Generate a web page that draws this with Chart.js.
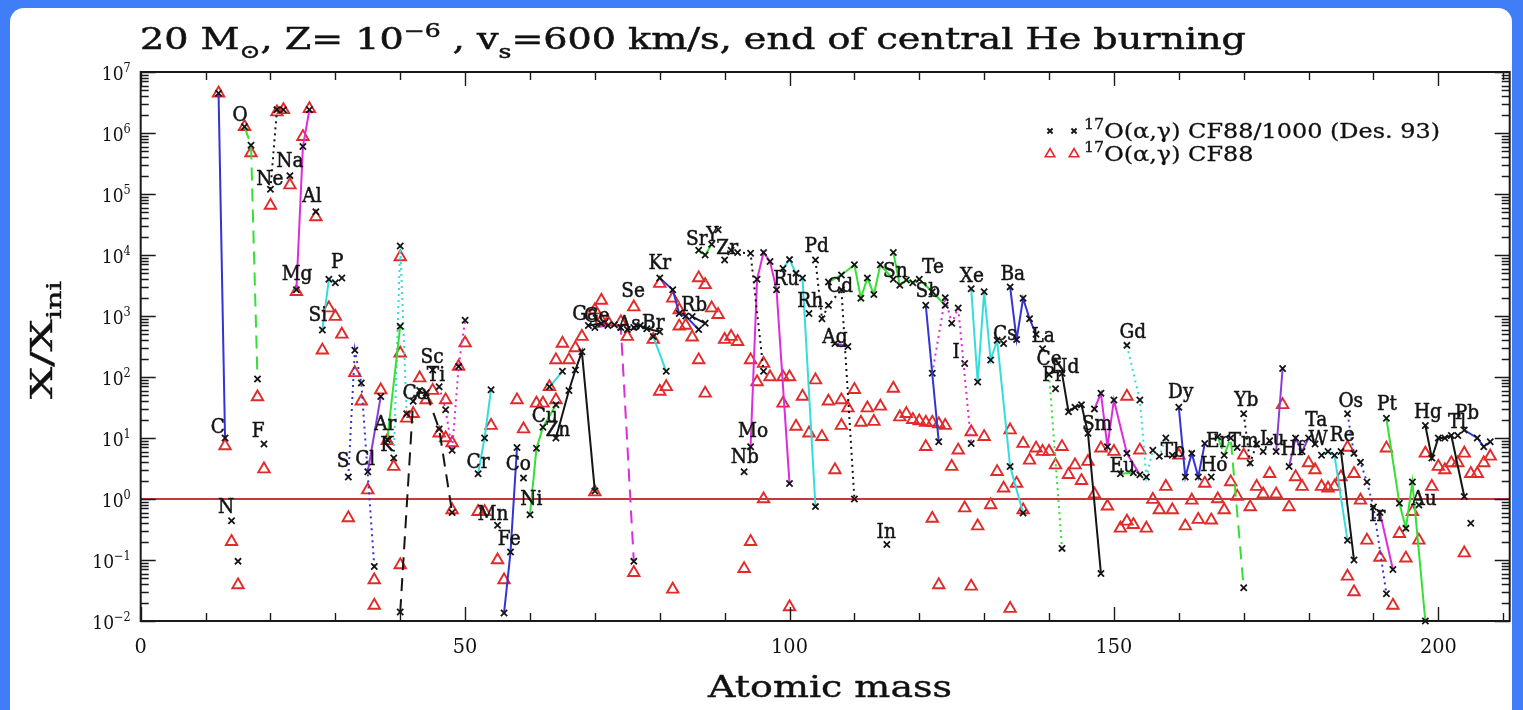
<!DOCTYPE html>
<html>
<head>
<meta charset="utf-8">
<title>Isotopic overabundances, 20 Msun, Z=1e-6</title>
<script src="https://cdn.jsdelivr.net/npm/chart.js@4.4.1/dist/chart.umd.min.js"></script>
<style>
  html, body { margin: 0; padding: 0; width: 1523px; height: 710px; overflow: hidden; background: #3f7ef7; }
  #panel { position: absolute; left: 10px; top: 8px; width: 1502px; height: 710px; background: #fff; border-radius: 14px 14px 0 0; }
  #c { position: absolute; left: 0; top: 0; }
</style>
</head>
<body>
<div id="panel"></div>
<canvas id="c" width="1523" height="710"></canvas>
<script>
// ---- Data: overabundance X/Xini of stable isotopes at the end of central He burning ----

// Elements, each plotted as a chain of its isotopes (crosses, Des. 93 rate)
const elements = ['C','N','O','F','Ne','Na','Mg','Al','Si','P','S','Cl','Ar','K','Ca','Sc','Ti','Cr','Mn','Fe',
  'Co','Ni','Cu','Zn','Ga','Ge','As','Se','Br','Kr','Rb','Sr','Y','Zr','Nb','Mo','Ru','Rh','Pd','Ag',
  'Cd','In','Sn','Sb','Te','I','Xe','Cs','Ba','La','Ce','Pr','Nd','Sm','Eu','Gd','Tb','Dy','Ho','Er',
  'Tm','Yb','Lu','Hf','Ta','W','Re','Os','Ir','Pt','Au','Hg','Tl','Pb'];

const crossMass = [
  [12,13],[14,15],[16,17,18],[19],[20,21,22],[23],[24,25,26],[27],[28,29,30],[31],
  [32,33,34,36],[35,37],[38,40],[39,40,41],[40,42,43,44,46,48],[45],[46,47,48,49,50],[52,53,54],[55],[56,57,58],
  [59],[60,61,62,64],[63,65],[64,66,67,68,70],[69,71],[70,72,73,74,76],[75],[76,77,78,80],[79,81],[80,82,83,84,86],
  [85,87],[86,87,88],[89],[90,91,92,94,96],[93],[94,95,96,97,98,100],[99,100,101,102,104],[103],[104,105,106,108,110],[107,109],
  [106,108,110,111,112,113,114,116],[115],[116,117,118,119,120,122,124],[121,123],[122,124,125,126,128],[127],
  [128,129,130,131,132,134,136],[133],[134,135,136,137,138],[139],
  [140,142],[141],[142,143,144,145,146,148],[147,148,149,150,152,154],[151,153],[152,154,155,156,157,158],[159],[160,161,162,163,164],[165],[166,167,168,170],
  [169],[170,171,172,173,174],[175,176],[177,178,179,180],[181],[182,183,184,186],[185,187],[186,187,188,189,190,192],[191,193],[192,194,195,196,198],
  [197],[198,199,200,201,202,204],[203,205],[204,206,207,208]
];

const crossAbund = [
  [4.5e6,10],[0.44,0.095],[1.27e6,6.3e5,93],[8],[1.2e5,2.4e6,2.4e6],[2.0e5],[2700,6.0e5,2.4e6],[5.1e4],[590,4000,3500],[4200],
  [2.3,275,80,0.078],[2.8,48],[9.4,680],[4.7,1.4e4,25],[0.014,40,60,55,14,0.6],[130],[69,29,6.3,148,850],[2.6,10,62],[0.37],[0.0135,0.135,7],
  [2.2],[0.55,6.8,15,35],[69,124],[10,60,130,260,1.35],[700,750],[650,700,720,650,0.095],[600],[650,700,620,550],[460,124],[4200,2700,1100,1000,600],
  [980,760],[1.2e4,1.0e4,1.5e4],[2.6e4],[8300,1.2e4,1.1e4,1.07e4,124],[2.8],[7.2,4000,1.1e4,7800,2700,1.8],[6000,8400,5000,4200,0.75],[1100],[8300,900,1500,2700,1.0],[355,316],
  [3600,4700,6900,1950,4200,2250,6900,4000],[0.18],[1.1e4,3200,3900,3500,4000,2500,1500],[1500,8.7],[115,2000,760,1350,8.1],[166],
  [2800,83,2500,190,400,3.4,0.59],[355],[3000,410,1950,900,500],[290],
  [110,0.155],[64],[115,27,32,35,12,0.06],[30,54,7.2,42,5.6,2.5],[2.6,2.7],[330,42,2.3,6.3,5,10],[5.2],[32,2.3,5.6,2.3,8.1],[2.3],[10.5,5.2,10,0.035],
  [7],[25,3.9,8,6,9],[6,138],[3.4,10,6,10],[8],[5.2,6,5.2,0.21],[6,0.1],[25,5.6,4,1.9,0.74,0.028],[0.6,0.07],[21,0.85,0.33,1.9,0.01],
  [0.8],[16,4.7,10,10,11,1.1],[11,0.4],[13.5,10,7.2,8.7]
];

// Where each element symbol is written: atomic mass and log10(X/Xini)
const labelMass = [11.9,13.15,15.3,18.1,19.9,23.0,24.1,26.4,27.3,30.3,
  31.2,34.6,37.7,38.0,42.3,44.9,45.5,52.0,54.3,56.8,
  58.2,60.2,62.3,64.3,68.5,70.3,75.3,75.9,79.0,80.0,
  85.3,85.7,88.1,90.4,93.1,94.4,99.5,103.2,104.2,107.0,
  107.8,114.9,116.3,121.3,122.1,125.7,128.1,133.2,134.4,139.1,
  140.0,140.6,142.5,147.4,151.3,152.9,159.1,160.3,165.4,165.9,
  170.0,170.4,174.4,177.5,181.2,181.5,185.2,186.5,190.6,192.1,
  197.8,198.4,202.9,204.4];
const labelLog = [1.16,-0.15,6.28,1.10,5.23,5.52,3.67,4.95,3.00,3.87,
  0.61,0.64,1.21,0.87,1.72,2.31,2.02,0.59,-0.26,-0.67,
  0.56,-0.02,1.34,1.11,3.02,2.98,2.85,3.39,2.87,3.85,
  3.16,4.25,4.31,4.10,0.67,1.10,3.59,3.23,4.13,2.64,
  3.48,-0.56,3.72,3.39,3.79,2.39,3.64,2.69,3.67,2.66,
  2.28,2.02,2.15,1.21,0.52,2.72,0.77,1.74,0.54,0.93,
  0.93,1.61,0.97,0.80,1.28,0.97,1.03,1.59,-0.28,1.54,
  -0.02,1.41,1.25,1.39];

// Triangles: the same isotopes with the CF88 rate
const triangleMass = [12,13,14,15,16,17,18,19,20,21,22,23,24,25,26,27,28,29,30,31,32,33,34,35,36,36,37,38,39,40,40,40,
  41,42,43,44,45,46,47,47,48,48,49,50,52,53,54,55,56,58,59,61,62,63,64,64,65,66,67,68,70,70,71,71,72,74,75,76,76,
  79,80,80,81,82,82,83,83,84,85,86,86,87,87,88,89,90,91,92,93,94,94,95,96,96,97,99,99,100,100,101,102,103,104,105,106,
  107,108,108,109,110,111,112,113,114,116,117,118,119,120,121,121,122,122,123,123,124,125,126,127,128,128,129,130,131,
  132,133,134,134,135,136,136,137,138,139,140,141,142,143,144,145,146,147,148,149,150,151,152,152,153,154,155,156,157,
  158,159,160,161,162,163,164,165,166,167,168,169,170,171,172,173,174,175,176,177,178,179,180,181,182,183,184,185,186,
  186,187,187,188,189,191,192,193,194,195,196,197,198,199,200,201,202,203,204,204,205,206,207,208];
const triangleAbund = [4.5e6,7.4,0.2,0.039,1.27e6,4.7e5,47,3.1,6.5e4,2.2e6,2.4e6,1.4e5,2500,8.7e5,2.5e6,4.2e4,275,1350,980,500,0.49,117,40,1.4,0.047,0.018,61,9,3.4,9300,245,0.083,
  21,25,96,42,60,12,42,10,8.3,0.66,148,360,0.62,0.62,16,0.1,0.047,42,14,37,37,69,190,42,355,190,300,460,1250,1.3,1800,850,800,800,460,1400,0.062,
  410,58,3400,69,1950,0.033,1260,680,700,450,4200,190,3240,54,1350,1050,410,460,380,0.072,190,0.2,83,166,1.0,100,100,37,100,0.017,15.5,48,12,89,10.5,40,
  3.0,42,16,31,62,18,31,18.6,33,65,22,25,20,19,18,7.2,18,0.48,17,0.039,16,3.4,6.3,0.71,12.6,0.037,0.36,10.5,0.8,
  2.8,1.5,13.5,0.016,1.8,8.1,0.66,4.3,6.8,6,6,3.6,7.2,2.5,3.6,2.0,4.1,1.2,6.8,0.76,6,0.33,0.43,48,0.38,6.3,0.33,0.98,0.66,
  1.6,0.66,5.2,0.36,0.95,0.46,1.8,0.45,1.0,0.66,1.9,1.1,5.2,0.74,1.6,1.2,2.6,1.2,35,0.74,2.3,1.6,3.9,3.0,1.6,1.5,1.6,2.3,7,
  0.054,2.6,0.03,0.95,0.21,0.11,6.8,0.018,0.27,0.107,0.62,0.21,5.6,1.6,3.4,3.0,3.9,3.9,5.6,0.13,2.6,2.6,3.9,5.0];

// Axis ticks
const xTickLabels = [0, 50, 100, 150, 200];
const yTickExponents = [-2, -1, 0, 1, 2, 3, 4, 5, 6, 7];

// ---- Styles ----
const BLUE = '#3434d0', GREEN = '#34e034', BLACK = '#151515', MAGENTA = '#dc2cdc', CYAN = '#36dcdc', PURPLE = '#8c3cd8';
const SOLID = [], DOTTED = [2, 4], DASHED = [13, 8];
const chainStyle = {
  C:[BLUE,SOLID], O:[GREEN,DASHED], Ne:[BLACK,DOTTED], Mg:[MAGENTA,SOLID], Si:[CYAN,SOLID], S:[BLUE,DOTTED],
  Cl:[PURPLE,SOLID], Ar:[GREEN,SOLID], K:[CYAN,DOTTED], Ca:[BLACK,DASHED], Ti:[MAGENTA,DOTTED], Cr:[CYAN,SOLID],
  Fe:[BLUE,SOLID], Ni:[GREEN,SOLID], Cu:[CYAN,SOLID], Zn:[BLACK,SOLID], Ga:[BLACK,SOLID], Ge:[MAGENTA,DASHED],
  Se:[BLACK,SOLID], Br:[CYAN,SOLID], Kr:[BLUE,SOLID], Rb:[BLACK,SOLID], Sr:[GREEN,SOLID], Zr:[BLACK,DOTTED],
  Mo:[MAGENTA,SOLID], Ru:[CYAN,SOLID], Pd:[BLACK,DOTTED], Ag:[PURPLE,SOLID], Cd:[GREEN,SOLID], Sn:[GREEN,SOLID],
  Sb:[BLUE,SOLID], Te:[MAGENTA,DOTTED], Xe:[CYAN,SOLID], Ba:[BLUE,SOLID], Ce:[GREEN,DOTTED], Nd:[BLACK,SOLID],
  Sm:[MAGENTA,SOLID], Eu:[GREEN,SOLID], Gd:[CYAN,DOTTED], Dy:[BLUE,SOLID], Er:[GREEN,DASHED], Yb:[BLACK,DOTTED],
  Lu:[PURPLE,SOLID], Hf:[PURPLE,SOLID], W:[CYAN,SOLID], Re:[BLACK,SOLID], Os:[BLUE,DOTTED], Ir:[MAGENTA,SOLID],
  Pt:[GREEN,SOLID], Hg:[BLACK,SOLID], Pb:[BLUE,SOLID]
};
const SERIF = '"DejaVu Serif", "Liberation Serif", serif';
const TRI_RED = '#e22a2a';

// ---- Datasets ----
const chainSets = elements.map((name, i) => {
  const st = chainStyle[name];
  return {
    label: name,
    data: crossMass[i].map((m, j) => ({ x: m, y: crossAbund[i][j] })),
    showLine: !!st,
    borderColor: st ? st[0] : 'rgba(0,0,0,0)',
    borderDash: st ? st[1] : [],
    borderWidth: 2,
    pointStyle: 'crossRot',
    pointRadius: 4.4,
    pointBorderColor: BLACK,
    pointBackgroundColor: BLACK,
    pointBorderWidth: 1.8,
    order: 1,
    clip: false
  };
});

const triangleSet = {
  label: 'CF88',
  data: triangleMass.map((m, i) => ({ x: m, y: triangleAbund[i] })),
  showLine: false,
  pointStyle: 'triangle',
  pointRadius: 6.6,
  pointBorderColor: TRI_RED,
  pointBackgroundColor: 'rgba(255,255,255,0)',
  pointBorderWidth: 1.9,
  order: 20,
  clip: false
};

const unityLine = {
  label: 'unity',
  data: [{ x: 0, y: 1 }, { x: 211, y: 1 }],
  showLine: true,
  borderColor: '#c23a3a',
  borderWidth: 2.2,
  pointRadius: 0,
  order: 10
};

// ---- Text helpers ----
function segFont(seg, size) {
  const s = seg.k ? size * 0.66 : size;
  return s.toFixed(1) + 'px ' + SERIF;
}
function richWidth(ctx, segs, size) {
  let w = 0;
  for (const s of segs) { ctx.font = segFont(s, size); w += ctx.measureText(s.t).width; }
  return w;
}
function drawRich(ctx, segs, x, y, size, opts) {
  const o = opts || {};
  const w = richWidth(ctx, segs, size);
  const sx = o.width ? o.width / w : (o.sx || 1);
  ctx.save();
  ctx.translate(x, y);
  if (o.rotate) ctx.rotate(o.rotate);
  ctx.scale(sx, 1);
  let cx = o.align === 'right' ? -w : o.align === 'center' ? -w / 2 : 0;
  ctx.textAlign = 'left';
  ctx.textBaseline = 'alphabetic';
  ctx.lineWidth = o.weight || 0;
  ctx.strokeStyle = ctx.fillStyle;
  for (const s of segs) {
    ctx.font = segFont(s, size);
    const dy = s.k === 'sup' ? -0.42 * size : s.k === 'sub' ? 0.3 * size : 0;
    ctx.fillText(s.t, cx, dy);
    if (o.weight) ctx.strokeText(s.t, cx, dy);
    cx += ctx.measureText(s.t).width;
  }
  ctx.restore();
  return sx;
}

// ---- Plugins: frame, ticks, labels, title, legend ----
const framePlugin = {
  id: 'frame',
  afterDraw(chart) {
    const { ctx, chartArea: a, scales: { x, y } } = chart;
    ctx.save();
    ctx.fillStyle = '#111';
    ctx.strokeStyle = '#1a1a1a';

    // x ticks (every 10, long at labelled values), mirrored on the top edge
    ctx.lineWidth = 1.4;
    ctx.beginPath();
    for (let v = 0; v <= x.max; v += 10) {
      const px = Math.round(x.getPixelForValue(v)) + 0.5;
      const len = xTickLabels.includes(v) ? 14 : 8;
      ctx.moveTo(px, a.bottom); ctx.lineTo(px, a.bottom - len);
      ctx.moveTo(px, a.top); ctx.lineTo(px, a.top + len);
    }
    // y ticks (decades long, 2..9 short), mirrored on the right edge
    for (const e of yTickExponents) {
      for (let m = 1; m <= 9; m++) {
        const v = m * Math.pow(10, e);
        if (v > y.max * 1.0001) continue;
        const py = Math.round(y.getPixelForValue(v)) + 0.5;
        const len = m === 1 ? 15 : 8;
        ctx.moveTo(a.left, py); ctx.lineTo(a.left + len, py);
        ctx.moveTo(a.right, py); ctx.lineTo(a.right - len, py);
      }
    }
    ctx.stroke();

    ctx.lineWidth = 2;
    ctx.strokeRect(a.left, a.top, a.right - a.left, a.bottom - a.top);

    // tick labels
    for (const v of xTickLabels) {
      drawRich(ctx, [{ t: String(v) }], x.getPixelForValue(v), a.bottom + 32, 21, { align: 'center', sx: 0.92 });
    }
    for (const e of yTickExponents) {
      const py = y.getPixelForValue(Math.pow(10, e));
      drawRich(ctx, [{ t: '10' }, { t: e < 0 ? '\u2212' + (-e) : String(e), k: 'sup' }], a.left - 10, py + 8, 19, { align: 'right', sx: 0.9 });
    }

    // axis titles
    drawRich(ctx, [{ t: 'Atomic mass' }], 830, 697, 30, { align: 'center', width: 244, weight: 0.4 });
    drawRich(ctx, [{ t: 'X/X' }, { t: 'ini', k: 'sub' }], 52, 340, 30, { align: 'center', rotate: -Math.PI / 2, width: 118, weight: 0.4 });

    // title
    drawRich(ctx, [
      { t: '20 M' }, { t: '\u2299', k: 'sub' }, { t: ', Z= 10' }, { t: '\u22126', k: 'sup' },
      { t: ' , v' }, { t: 's', k: 'sub' }, { t: '=600 km/s, end of central He burning' }
    ], 140, 49, 29, { width: 1106, weight: 0.5 });

    // legend
    const lx = [1050, 1074];
    ctx.strokeStyle = '#1a1a1a';
    for (const px of lx) {
      Chart.helpers.drawPoint(ctx, { pointStyle: 'crossRot', radius: 3.6, borderWidth: 1.5 }, px, 131);
    }
    ctx.strokeStyle = TRI_RED;
    ctx.fillStyle = 'rgba(255,255,255,0)';
    ctx.lineWidth = 1.6;
    for (const px of lx) {
      Chart.helpers.drawPoint(ctx, { pointStyle: 'triangle', radius: 5.5, borderWidth: 1.6 }, px, 154);
    }
    ctx.fillStyle = '#111';
    const sx = drawRich(ctx, [{ t: '17', k: 'sup' }, { t: 'O(\u03b1,\u03b3) CF88/1000 (Des. 93)' }], 1084, 138, 21, { width: 356, weight: 0.3 });
    drawRich(ctx, [{ t: '17', k: 'sup' }, { t: 'O(\u03b1,\u03b3) CF88' }], 1084, 161, 21, { sx: sx, weight: 0.3 });
    ctx.restore();
  }
};

const symbolPlugin = {
  id: 'symbols',
  afterDatasetsDraw(chart) {
    const { ctx, scales: { x, y } } = chart;
    ctx.save();
    ctx.fillStyle = '#141414';
    ctx.strokeStyle = '#141414';
    ctx.lineWidth = 0.5;
    ctx.textAlign = 'center';
    ctx.textBaseline = 'middle';
    ctx.font = '19.5px ' + SERIF;
    elements.forEach((name, i) => {
      const px = x.getPixelForValue(labelMass[i]);
      const py = y.getPixelForValue(Math.pow(10, labelLog[i]));
      ctx.save();
      ctx.translate(px, py);
      ctx.scale(0.95, 1);
      ctx.fillText(name, 0, 0);
      ctx.strokeText(name, 0, 0);
      ctx.restore();
    });
    ctx.restore();
  }
};

// ---- Chart ----
const hiddenScale = (type, extra) => Object.assign({
  type,
  display: true,
  ticks: { display: false },
  grid: { display: false, drawTicks: false },
  border: { display: false },
  title: { display: false },
  afterFit(s) { if (s.isHorizontal()) s.height = 0; else s.width = 0; }
}, extra);

new Chart(document.getElementById('c'), {
  type: 'scatter',
  data: { datasets: [...chainSets, unityLine, triangleSet] },
  options: {
    responsive: false,
    devicePixelRatio: 1,
    animation: false,
    events: [],
    layout: { padding: { left: 140.7, top: 72, right: 13.3, bottom: 89 } },
    scales: {
      x: hiddenScale('linear', { min: 0, max: 211 }),
      y: hiddenScale('logarithmic', { min: 0.01, max: 1e7 })
    },
    plugins: { legend: { display: false }, tooltip: { enabled: false }, title: { display: false } }
  },
  plugins: [symbolPlugin, framePlugin]
});
</script>
</body>
</html>
